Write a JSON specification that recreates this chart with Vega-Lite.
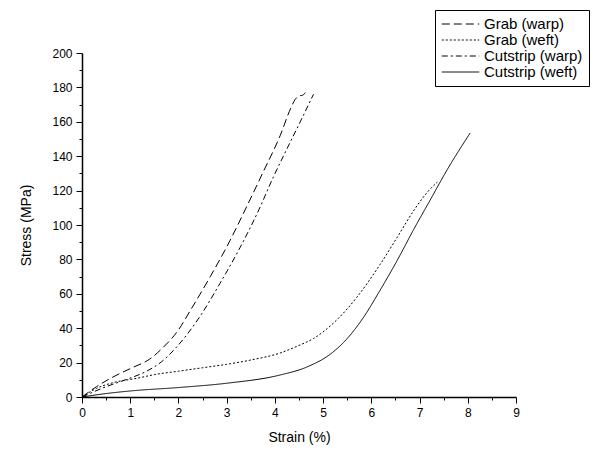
{
  "$schema": "https://vega.github.io/schema/vega-lite/v6.json",
  "width": 434,
  "height": 344,
  "autosize": "none",
  "padding": {"left": 82, "top": 53, "right": 83, "bottom": 53},
  "background": "white",
  "config": {
    "view": {"stroke": null},
    "font": "Liberation Sans",
    "axis": {"domainColor": "black", "domainWidth": 1.5, "tickColor": "black", "tickWidth": 1, "labelColor": "black", "titleColor": "black", "grid": false, "labelFont": "Liberation Sans", "titleFont": "Liberation Sans", "labelFontSize": 12, "titleFontSize": 14, "titleFontWeight": "normal"},
    "legend": {"labelFontSize": 15, "labelFont": "Liberation Sans", "labelColor": "black", "labelLimit": 300}
  },
  "data": {"values": [
    {"series": "Grab (warp)", "strain": 0, "stress": 0},
    {"series": "Grab (warp)", "strain": 0.3, "stress": 6},
    {"series": "Grab (warp)", "strain": 0.6, "stress": 11},
    {"series": "Grab (warp)", "strain": 1.0, "stress": 16.5},
    {"series": "Grab (warp)", "strain": 1.4, "stress": 22},
    {"series": "Grab (warp)", "strain": 1.69, "stress": 29},
    {"series": "Grab (warp)", "strain": 2.0, "stress": 39},
    {"series": "Grab (warp)", "strain": 2.24, "stress": 50},
    {"series": "Grab (warp)", "strain": 2.66, "stress": 70},
    {"series": "Grab (warp)", "strain": 3.07, "stress": 91},
    {"series": "Grab (warp)", "strain": 3.42, "stress": 111},
    {"series": "Grab (warp)", "strain": 3.76, "stress": 131},
    {"series": "Grab (warp)", "strain": 4.11, "stress": 152},
    {"series": "Grab (warp)", "strain": 4.33, "stress": 168},
    {"series": "Grab (warp)", "strain": 4.42, "stress": 173},
    {"series": "Grab (warp)", "strain": 4.5, "stress": 175},
    {"series": "Grab (warp)", "strain": 4.58, "stress": 175.5},
    {"series": "Grab (warp)", "strain": 4.63, "stress": 177},
    {"series": "Grab (weft)", "strain": 0, "stress": 0},
    {"series": "Grab (weft)", "strain": 0.3, "stress": 5},
    {"series": "Grab (weft)", "strain": 0.6, "stress": 8},
    {"series": "Grab (weft)", "strain": 1.16, "stress": 11},
    {"series": "Grab (weft)", "strain": 1.5, "stress": 13},
    {"series": "Grab (weft)", "strain": 2.0, "stress": 15},
    {"series": "Grab (weft)", "strain": 2.5, "stress": 17},
    {"series": "Grab (weft)", "strain": 3.0, "stress": 19},
    {"series": "Grab (weft)", "strain": 3.5, "stress": 21.5},
    {"series": "Grab (weft)", "strain": 4.11, "stress": 25.6},
    {"series": "Grab (weft)", "strain": 4.5, "stress": 30},
    {"series": "Grab (weft)", "strain": 4.8, "stress": 34},
    {"series": "Grab (weft)", "strain": 5.29, "stress": 45},
    {"series": "Grab (weft)", "strain": 5.7, "stress": 58},
    {"series": "Grab (weft)", "strain": 6.18, "stress": 77},
    {"series": "Grab (weft)", "strain": 6.54, "stress": 93},
    {"series": "Grab (weft)", "strain": 6.87, "stress": 108},
    {"series": "Grab (weft)", "strain": 7.16, "stress": 119},
    {"series": "Grab (weft)", "strain": 7.37, "stress": 125},
    {"series": "Cutstrip (warp)", "strain": 0, "stress": 0},
    {"series": "Cutstrip (warp)", "strain": 0.5, "stress": 6},
    {"series": "Cutstrip (warp)", "strain": 0.95, "stress": 10.5},
    {"series": "Cutstrip (warp)", "strain": 1.34, "stress": 15},
    {"series": "Cutstrip (warp)", "strain": 1.65, "stress": 20.5},
    {"series": "Cutstrip (warp)", "strain": 1.96, "stress": 29},
    {"series": "Cutstrip (warp)", "strain": 2.45, "stress": 47},
    {"series": "Cutstrip (warp)", "strain": 2.86, "stress": 66},
    {"series": "Cutstrip (warp)", "strain": 3.28, "stress": 87},
    {"series": "Cutstrip (warp)", "strain": 3.67, "stress": 109},
    {"series": "Cutstrip (warp)", "strain": 3.97, "stress": 128},
    {"series": "Cutstrip (warp)", "strain": 4.28, "stress": 146},
    {"series": "Cutstrip (warp)", "strain": 4.56, "stress": 162},
    {"series": "Cutstrip (warp)", "strain": 4.8, "stress": 176},
    {"series": "Cutstrip (weft)", "strain": 0, "stress": 0},
    {"series": "Cutstrip (weft)", "strain": 0.5, "stress": 2},
    {"series": "Cutstrip (weft)", "strain": 1, "stress": 3.5},
    {"series": "Cutstrip (weft)", "strain": 2, "stress": 5.5},
    {"series": "Cutstrip (weft)", "strain": 3, "stress": 8},
    {"series": "Cutstrip (weft)", "strain": 4.11, "stress": 12.8},
    {"series": "Cutstrip (weft)", "strain": 4.66, "stress": 17.4},
    {"series": "Cutstrip (weft)", "strain": 5.2, "stress": 26},
    {"series": "Cutstrip (weft)", "strain": 5.5, "stress": 34},
    {"series": "Cutstrip (weft)", "strain": 5.83, "stress": 46},
    {"series": "Cutstrip (weft)", "strain": 6.18, "stress": 62},
    {"series": "Cutstrip (weft)", "strain": 6.54, "stress": 79.6},
    {"series": "Cutstrip (weft)", "strain": 6.87, "stress": 97},
    {"series": "Cutstrip (weft)", "strain": 7.22, "stress": 114.5},
    {"series": "Cutstrip (weft)", "strain": 7.57, "stress": 132},
    {"series": "Cutstrip (weft)", "strain": 8.05, "stress": 153.5}
  ]},
  "mark": {"type": "line", "strokeWidth": 1, "color": "black", "interpolate": "monotone"},
  "encoding": {
    "x": {"field": "strain", "type": "quantitative", "title": "Strain (%)",
      "scale": {"domain": [0, 9], "nice": false},
      "axis": {"values": [0, 0.5, 1, 1.5, 2, 2.5, 3, 3.5, 4, 4.5, 5, 5.5, 6, 6.5, 7, 7.5, 8, 8.5, 9],
        "labelExpr": "datum.value % 1 === 0 ? format(datum.value, 'd') : ''",
        "tickSize": {"condition": {"test": "datum.value % 1 === 0", "value": 6}, "value": 3},
        "labelPadding": 4, "titlePadding": 12, "labelFlush": false}},
    "y": {"field": "stress", "type": "quantitative", "title": "Stress (MPa)",
      "scale": {"domain": [0, 200], "nice": false},
      "axis": {"values": [0, 10, 20, 30, 40, 50, 60, 70, 80, 90, 100, 110, 120, 130, 140, 150, 160, 170, 180, 190, 200],
        "labelExpr": "datum.value % 20 === 0 ? format(datum.value, 'd') : ''",
        "tickSize": {"condition": {"test": "datum.value % 20 === 0", "value": 6}, "value": 3},
        "labelPadding": 4, "titlePadding": 18, "labelFlush": false}},
    "strokeDash": {"field": "series", "type": "nominal",
      "scale": {"domain": ["Grab (warp)", "Grab (weft)", "Cutstrip (warp)", "Cutstrip (weft)"],
        "range": [[8, 4], [2, 2], [6, 3, 2, 3], [1, 0]]},
      "legend": {"title": null, "orient": "none", "legendX": 353, "legendY": -43,
        "strokeColor": "black", "fillColor": "white", "padding": 6,
        "symbolType": "stroke", "symbolSize": 1400, "symbolStrokeWidth": 1, "symbolStrokeColor": "black",
        "clipHeight": 16, "rowPadding": 0, "labelFontSize": 15, "labelOffset": 4}}
  }
}
